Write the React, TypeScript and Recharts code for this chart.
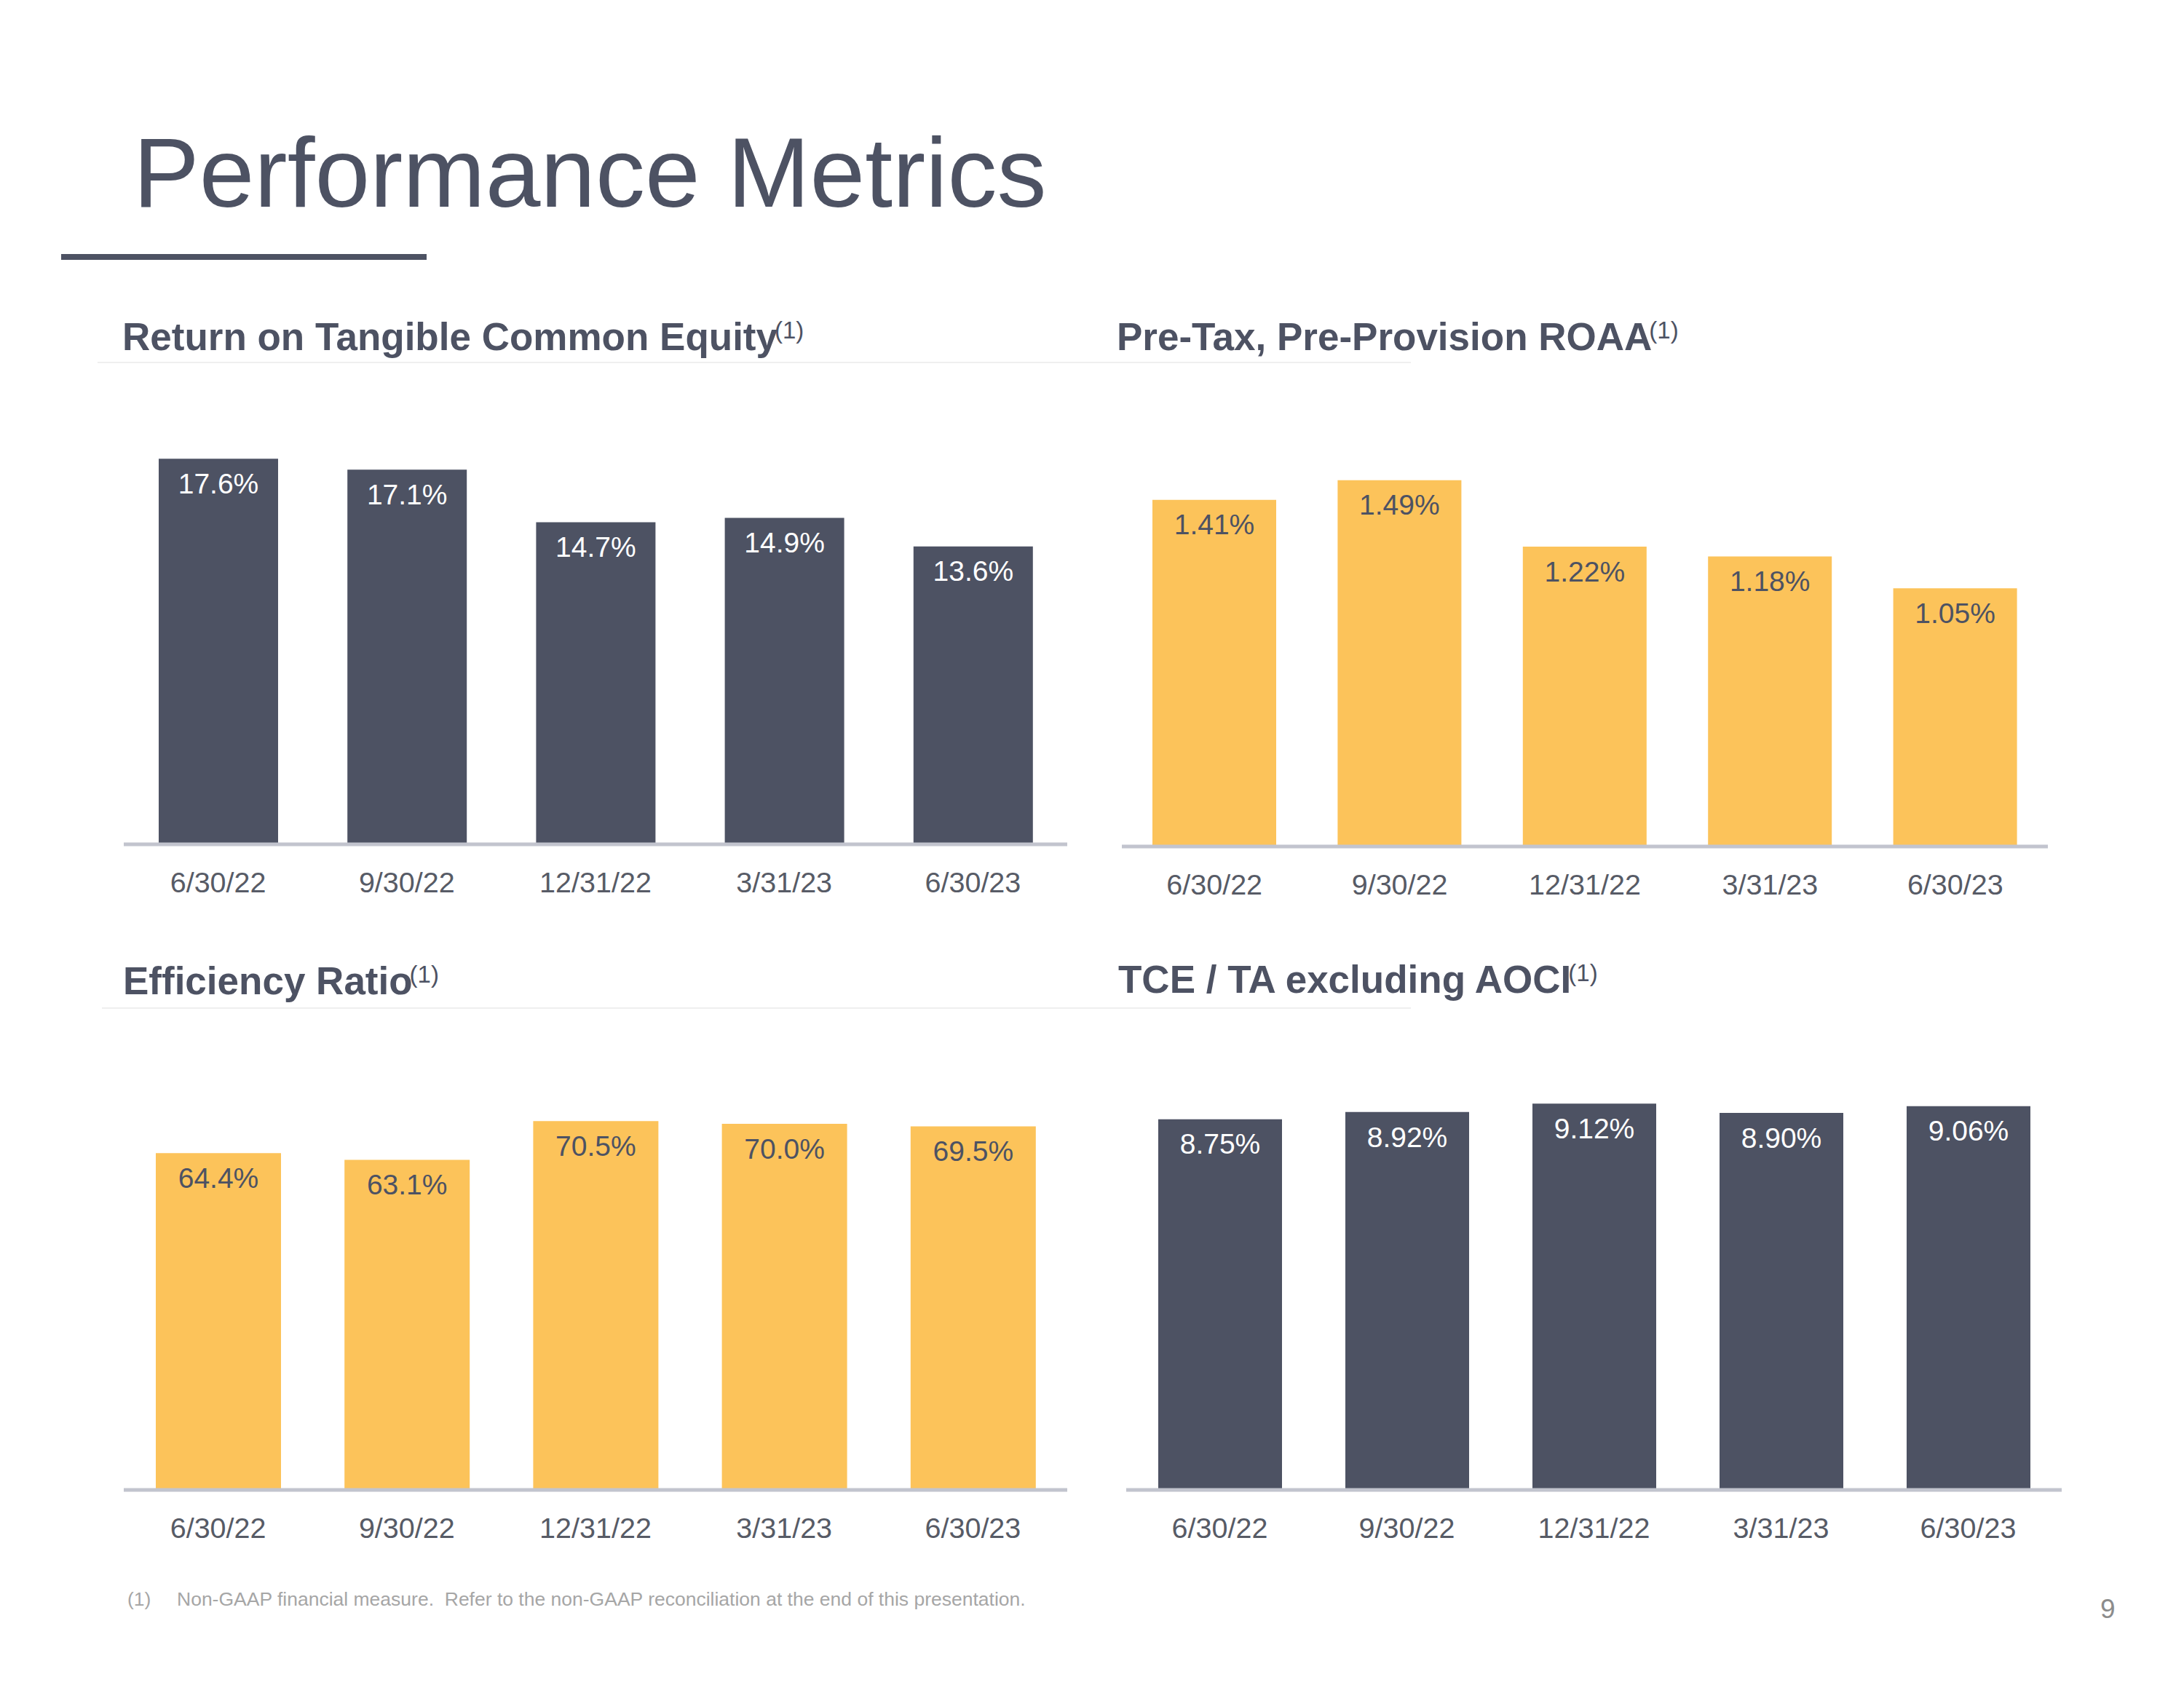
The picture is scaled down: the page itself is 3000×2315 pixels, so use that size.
import React from "react";
import { Bar, BarChart, LabelList, XAxis, YAxis } from "recharts";

const dates = ["6/30/22", "9/30/22", "12/31/22", "3/31/23", "6/30/23"];
const rotceValues = [17.6, 17.1, 14.7, 14.9, 13.6];
const pptpRoaaValues = [1.41, 1.49, 1.22, 1.18, 1.05];
const efficiencyValues = [64.4, 63.1, 70.5, 70.0, 69.5];
const tceValues = [8.75, 8.92, 9.12, 8.9, 9.06];

const DARK = "#4d5263";
const YELLOW = "#fcc35a";
const AXIS = "#c2c4ce";
const FONT = "'Liberation Sans', Arial, Helvetica, sans-serif";

type MetricChartProps = {
  values: number[];
  decimals: number;
  left: number;
  top: number;
  width: number;
  plotHeight: number;
  max: number;
  barSize: number;
  fill: string;
  labelColor: string;
};

const MetricChart = ({
  values,
  decimals,
  left,
  top,
  width,
  plotHeight,
  max,
  barSize,
  fill,
  labelColor,
}: MetricChartProps) => {
  const data = dates.map((date, i) => ({ date, value: values[i] }));
  return (
    <div style={{ position: "absolute", left, top }}>
      <BarChart
        width={width}
        height={plotHeight + 100}
        data={data}
        margin={{ top: 0, right: 0, bottom: 0, left: 0 }}
      >
        <XAxis
          dataKey="date"
          height={100}
          interval={0}
          tickLine={false}
          tickSize={0}
          tickMargin={38}
          axisLine={{ stroke: AXIS, strokeWidth: 5 }}
          tick={{ fill: "#575b66", fontSize: 39.5, fontFamily: FONT }}
        />
        <YAxis hide type="number" domain={[0, max]} />
        <Bar dataKey="value" fill={fill} barSize={barSize} isAnimationActive={false}>
          <LabelList
            dataKey="value"
            position="insideTop"
            offset={20}
            fill={labelColor}
            fontSize={39}
            fontFamily={FONT}
            formatter={(v: any) => `${Number(v).toFixed(decimals)}%`}
          />
        </Bar>
      </BarChart>
    </div>
  );
};

const Subtitle = ({ x, y, text }: { x: number; y: number; text: string }) => (
  <text x={x} y={y} fontSize={53} fontWeight="bold" fill={DARK} fontFamily={FONT}>
    {text}
    <tspan fontSize={33} dx={-4} dy={-16} fontWeight="normal">
      (1)
    </tspan>
  </text>
);

export default function App() {
  return (
    <div
      style={{
        position: "absolute",
        left: 0,
        top: 0,
        width: 3000,
        height: 2315,
        background: "#ffffff",
        fontFamily: FONT,
        overflow: "hidden",
      }}
    >
      <svg width={3000} height={2315} style={{ position: "absolute", left: 0, top: 0 }}>
        <text x={183} y={284} fontSize={136} fill={DARK} fontFamily={FONT}>
          Performance Metrics
        </text>
        <rect x={84} y={349} width={502} height={8} fill={DARK} />

        <Subtitle x={168} y={481} text="Return on Tangible Common Equity" />
        <Subtitle x={1534} y={481} text="Pre-Tax, Pre-Provision ROAA" />
        <line x1={134} x2={1938} y1={498} y2={498} stroke="#efefef" strokeWidth={2} />

        <Subtitle x={169} y={1366} text="Efficiency Ratio" />
        <Subtitle x={1536} y={1364} text="TCE / TA excluding AOCI" />
        <line x1={140} x2={1938} y1={1385} y2={1385} stroke="#efefef" strokeWidth={2} />

        <text x={175} y={2206} fontSize={26.5} fill="#a6a6a6" fontFamily={FONT}>
          (1)
        </text>
        <text
          x={243}
          y={2206}
          fontSize={26.5}
          fill="#a6a6a6"
          fontFamily={FONT}
          style={{ whiteSpace: "pre" }}
        >
          {"Non-GAAP financial measure.  Refer to the non-GAAP reconciliation at the end of this presentation."}
        </text>
        <text x={2885} y={2223} fontSize={37} fill="#8c8c8c" fontFamily={FONT}>
          9
        </text>
      </svg>

      <MetricChart
        values={rotceValues}
        decimals={1}
        left={170}
        top={558}
        width={1296}
        plotHeight={602}
        max={20}
        barSize={164}
        fill={DARK}
        labelColor="#ffffff"
      />
      <MetricChart
        values={pptpRoaaValues}
        decimals={2}
        left={1541}
        top={555}
        width={1272}
        plotHeight={608}
        max={1.8}
        barSize={170}
        fill={YELLOW}
        labelColor={DARK}
      />
      <MetricChart
        values={efficiencyValues}
        decimals={1}
        left={170}
        top={1472}
        width={1296}
        plotHeight={575}
        max={80}
        barSize={172}
        fill={YELLOW}
        labelColor={DARK}
      />
      <MetricChart
        values={tceValues}
        decimals={2}
        left={1547}
        top={1465}
        width={1285}
        plotHeight={582}
        max={10}
        barSize={170}
        fill={DARK}
        labelColor="#ffffff"
      />
    </div>
  );
}
